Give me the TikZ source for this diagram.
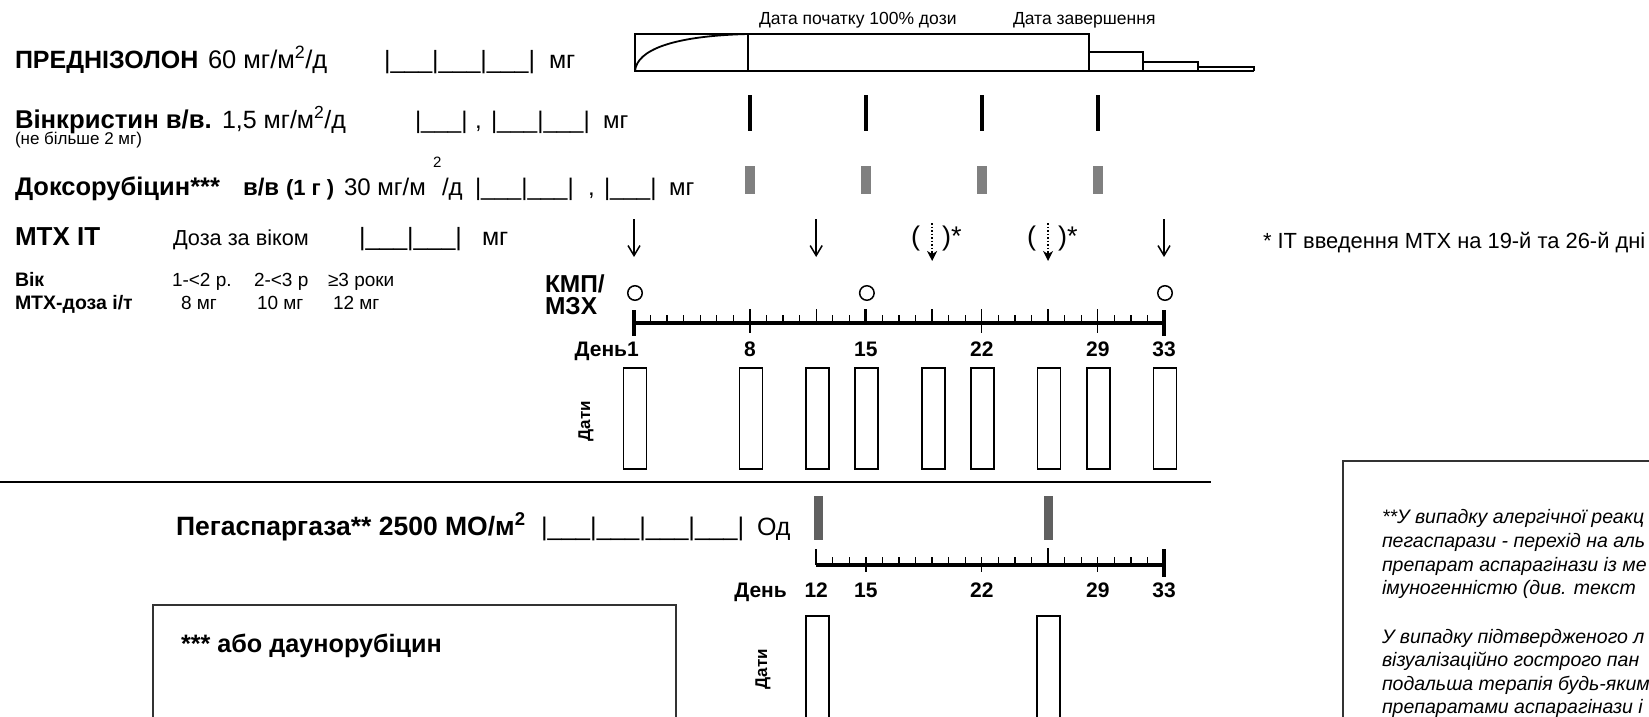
\documentclass[tikz,border=0pt]{standalone}
\usepackage{fontspec}
\setmainfont{Liberation Sans}
\usetikzlibrary{arrows.meta}
\newcommand\fsz[1]{\fontsize{#1}{#1}\selectfont}
\newcommand\dayx[1]{634+(#1-1)*16.5625}
\definecolor{doxgray}{HTML}{808080}
\definecolor{peggray}{HTML}{606060}
\tikzset{
  txt/.style={anchor=base west, inner sep=0pt, outer sep=0pt},
  ctxt/.style={anchor=base, inner sep=0pt, outer sep=0pt},
  thinline/.style={line width=1.6pt},
  vinbar/.style={fill=black, draw=none, minimum width=3.5pt, minimum height=36pt, inner sep=0pt},
  doxbar/.style={fill=doxgray, draw=none, minimum width=9.5pt, minimum height=28pt, inner sep=0pt},
  pegbar/.style={fill=peggray, draw=none, minimum width=9pt, minimum height=44pt, inner sep=0pt},
  datebox/.style={draw, line width=1.8pt, minimum width=23pt, minimum height=101pt, inner sep=0pt},
  kmpc/.style={draw, circle, line width=1.5pt, minimum size=14.5pt, inner sep=0pt},
  mtxarr/.style={line width=1.5pt, -{Straight Barb[length=10pt,width=12pt,line width=1.5pt]}},
  minortick/.style={line width=1.3pt},
  datilbl/.style={font=\fsz{17}\bfseries, rotate=90, inner sep=0pt},
}
\begin{document}
\begin{tikzpicture}[x=1pt,y=-1pt]
\fill[white] (0,0) rectangle (1649,717);
\useasboundingbox (0,0) rectangle (1649,717);
\clip (0,0) rectangle (1649,717);

% ---------- Row 1: prednisolone ----------
\node[txt, font=\fsz{25}\bfseries] (pred) at (15,68) {ПРЕДНІЗОЛОН};
\node[txt, font=\fsz{25.5}] (predd) at (208,68) {60 мг/м\textsuperscript{2}/д};
\node[txt, font=\fsz{25}] (predb) at (384,68) {|\_\_\_|\_\_\_|\_\_\_|};
\node[txt, font=\fsz{25}] (predm) at (549,68) {мг};

\draw[thinline] (635,34) rectangle (1089,71);
\draw[thinline] (748,34) -- (748,71);
\draw[thinline] (1089,71) -- (1254,71);
\draw[thinline] (1089,52) -- (1143,52) -- (1143,71);
\draw[thinline] (1143,62) -- (1198,62) -- (1198,71);
\draw[thinline] (1198,67) -- (1254,67) -- (1254,71);
\draw[line width=1.8pt] (635,71) .. controls (637,50) and (672,36) .. (748,34);
\node[txt, font=\fsz{17.5}] (dstart) at (759,25) {Дата початку 100\% дози};
\node[txt, font=\fsz{17.5}] (dend) at (1013,25) {Дата завершення};

% ---------- Row 2: vincristine ----------
\node[txt, font=\fsz{25.7}\bfseries] (vin) at (15,128) {Вінкристин в/в.};
\node[txt, font=\fsz{25}] (vind) at (222,128) {1,5 мг/м\textsuperscript{2}/д};
\node[txt, font=\fsz{24}] (vinb1) at (415,128) {|\_\_\_|};
\node[txt, font=\fsz{24}] (vinc) at (475,128) {,};
\node[txt, font=\fsz{24}] (vinb2) at (491,128) {|\_\_\_|\_\_\_|};
\node[txt, font=\fsz{24}] (vinm) at (603,128) {мг};
\node[txt, font=\fsz{17}] (vinmax) at (15,144) {(не більше 2 мг)};
\foreach \d in {8,15,22,29} \node[vinbar] (vb\d) at ({\dayx{\d}},113) {};

% ---------- Row 3: doxorubicin ----------
\node[txt, font=\fsz{25.5}\bfseries] (dox) at (15,195) {Доксорубіцин***};
\node[txt, font=\fsz{24}\bfseries] (doxvv) at (243,195) {в/в};
\node[txt, font=\fsz{22}\bfseries] (doxg) at (286,195) {(1 г )};
\node[txt, font=\fsz{24}] (doxd) at (344,195) {30 мг/м};
\node[txt, font=\fsz{15}] (doxsq) at (433,167) {2};
\node[txt, font=\fsz{24}] (doxdd) at (442,195) {/д};
\node[txt, font=\fsz{24}] (doxb1) at (475,195) {|\_\_\_|\_\_\_|};
\node[txt, font=\fsz{24}] (doxc) at (588,195) {,};
\node[txt, font=\fsz{24}] (doxb2) at (604,195) {|\_\_\_|};
\node[txt, font=\fsz{24}] (doxm) at (669,195) {мг};
\foreach \d in {8,15,22,29} \node[doxbar] (xb\d) at ({\dayx{\d}},180) {};

% ---------- Row 4: MTX IT ----------
\node[txt, font=\fsz{26}\bfseries] (mtx) at (15,245) {МТХ ІТ};
\node[txt, font=\fsz{21.7}] (mtxd) at (173,245) {Доза за віком};
\node[txt, font=\fsz{25}] (mtxb) at (359,245) {|\_\_\_|\_\_\_|};
\node[txt, font=\fsz{25}] (mtxm) at (482,245) {мг};

\foreach \d/\n in {1/a,12/b,33/c} {
  \coordinate (mtx\n s) at ({\dayx{\d}},219);
  \coordinate (mtx\n e) at ({\dayx{\d}},257);
  \draw[mtxarr] (mtx\n s) -- (mtx\n e);
}
\foreach \d/\n in {19/d,26/e} {
  \coordinate (mtx\n s) at ({\dayx{\d}},223);
  \coordinate (mtx\n m) at ({\dayx{\d}},251);
  \coordinate (mtx\n e) at ({\dayx{\d}},261);
  \draw[line width=1.5pt, dotted] (mtx\n s) -- (mtx\n m);
  \draw[line width=1.3pt, -{Stealth[length=10pt,width=10pt,inset=3pt]}] (mtx\n m) -- (mtx\n e);
  \node[txt, font=\fsz{27}] (pl\n) at ({\dayx{\d}-21},245) {(};
  \node[txt, font=\fsz{27}] (pr\n) at ({\dayx{\d}+10},245) {)*};
}
\node[txt, font=\fsz{21.9}] (note) at (1263,248) {* ІТ введення МТХ на 19-й та 26-й дні};

% ---------- Row 5: age table ----------
\node[txt, font=\fsz{19.5}\bfseries] (age) at (15,286) {Вік};
\node[txt, font=\fsz{19}] (age1) at (172,286) {1-<2 р.};
\node[txt, font=\fsz{19}] (age2) at (254,286) {2-<3 р};
\node[txt, font=\fsz{19}] (age3) at (328,286) {≥3 роки};
\node[txt, font=\fsz{19.5}\bfseries] (dose) at (15,309) {МТХ-доза і/т};
\node[txt, font=\fsz{19}] (dose1) at (181,309) {8 мг};
\node[txt, font=\fsz{19}] (dose2) at (257,309) {10 мг};
\node[txt, font=\fsz{19}] (dose3) at (333,309) {12 мг};

% ---------- KMP / axis ----------
\node[txt, font=\fsz{24.5}\bfseries] (kmp1) at (545,292) {КМП/};
\node[txt, font=\fsz{24.5}\bfseries] (kmp2) at (545,314) {МЗХ};
\foreach \d in {1,15,33} \node[kmpc] (c\d) at ({\dayx{\d}+1},293) {};

\coordinate (ta1) at ({\dayx{1}},323);
\coordinate (ta33) at ({\dayx{33}},323);
\draw[line width=4pt] (ta1) -- (ta33);
\foreach \d in {2,...,32} \draw[minortick] ({\dayx{\d}},315) -- ({\dayx{\d}},323);
\foreach \d in {12,19,26} \draw[minortick] ({\dayx{\d}},309) -- ({\dayx{\d}},323);
\foreach \d in {8,22,29} \draw[minortick] ({\dayx{\d}},309) -- ({\dayx{\d}},333);
\draw[line width=3pt] ({\dayx{15}},309) -- ({\dayx{15}},323);
\foreach \d in {1,33} \draw[line width=4pt] ({\dayx{\d}},310) -- ({\dayx{\d}},336);

\node[font=\fsz{21}\bfseries, anchor=base east, inner sep=0pt] (den1) at (639,356) {День1};
\foreach \d in {8,15,22,29,33} \node[ctxt, font=\fsz{21}\bfseries] (tl\d) at ({\dayx{\d}},356) {\d};

\foreach \d in {1,8,12,15,19,22,26,29,33} \node[datebox] (db\d) at ({\dayx{\d}+1},418.5) {};
\node[datilbl] (dati1) at (586,421) {Дати};

% ---------- separator ----------
\coordinate (s0) at (0,482);
\coordinate (s1) at (1211,482);
\draw[thinline] (s0) -- (s1);

% ---------- pegaspargase ----------
\node[txt, font=\fsz{26.5}\bfseries] (peg) at (176,535) {Пегаспаргаза** 2500 МО/м\textsuperscript{2}};
\node[txt, font=\fsz{25.5}] (pegb) at (541,535) {|\_\_\_|\_\_\_|\_\_\_|\_\_\_|};
\node[txt, font=\fsz{25}] (pegu) at (757,535) {Од};
\node[pegbar] (pb12) at (818.5,518) {};
\node[pegbar] (pb26) at (1048.5,518) {};

\coordinate (ba12) at ({\dayx{12}},565);
\coordinate (ba33) at ({\dayx{33}},565);
\draw[line width=4.5pt] (ba12) -- (ba33);
\foreach \d in {13,...,32} \draw[minortick] ({\dayx{\d}},557) -- ({\dayx{\d}},565);
\foreach \d in {15,22,29} \draw[minortick] ({\dayx{\d}},557) -- ({\dayx{\d}},572);
\draw[line width=2pt] ({\dayx{12}},549) -- ({\dayx{12}},565);
\draw[line width=1.5pt] ({\dayx{26}},548) -- ({\dayx{26}},565);
\draw[line width=4.5pt] ({\dayx{33}},549) -- ({\dayx{33}},577);

\node[font=\fsz{21}\bfseries, anchor=base east, inner sep=0pt] (den2) at (787,597) {День};
\foreach \d in {12,15,22,29,33} \node[ctxt, font=\fsz{21}\bfseries] (bl\d) at ({\dayx{\d}},597) {\d};

\node[datebox, minimum height=160pt] (bdb12) at (817.5,696) {};
\node[datebox, minimum height=160pt] (bdb26) at (1048.5,696) {};
\node[datilbl] (dati2) at (763,669) {Дати};

% ---------- footnote boxes ----------
\draw[line width=1.5pt, draw=black!80] (153,605) rectangle (676,790);
\node[txt, font=\fsz{25.2}\bfseries] (dauno) at (181,652) {*** або даунорубіцин};

\draw[line width=1.5pt, draw=black!80] (1343,461) rectangle (1720,790);
\begin{scope}[every node/.style={txt, font=\fsz{19.5}\itshape}]
\node (r1) at (1382,523) {**У випадку алергічної реакц};
\node (r2) at (1382,547) {пегаспарази - перехід на аль};
\node (r3) at (1382,571) {препарат аспарагінази із ме};
\node (r4) at (1382,594) {імуногенністю (див. текст};
\node (r5) at (1382,643) {У випадку підтвердженого л};
\node (r6) at (1382,666) {візуалізаційно гострого пан};
\node (r7) at (1382,690) {подальша терапія будь-яким};
\node (r8) at (1382,713) {препаратами аспарагінази і};
\end{scope}
\end{tikzpicture}
\end{document}
